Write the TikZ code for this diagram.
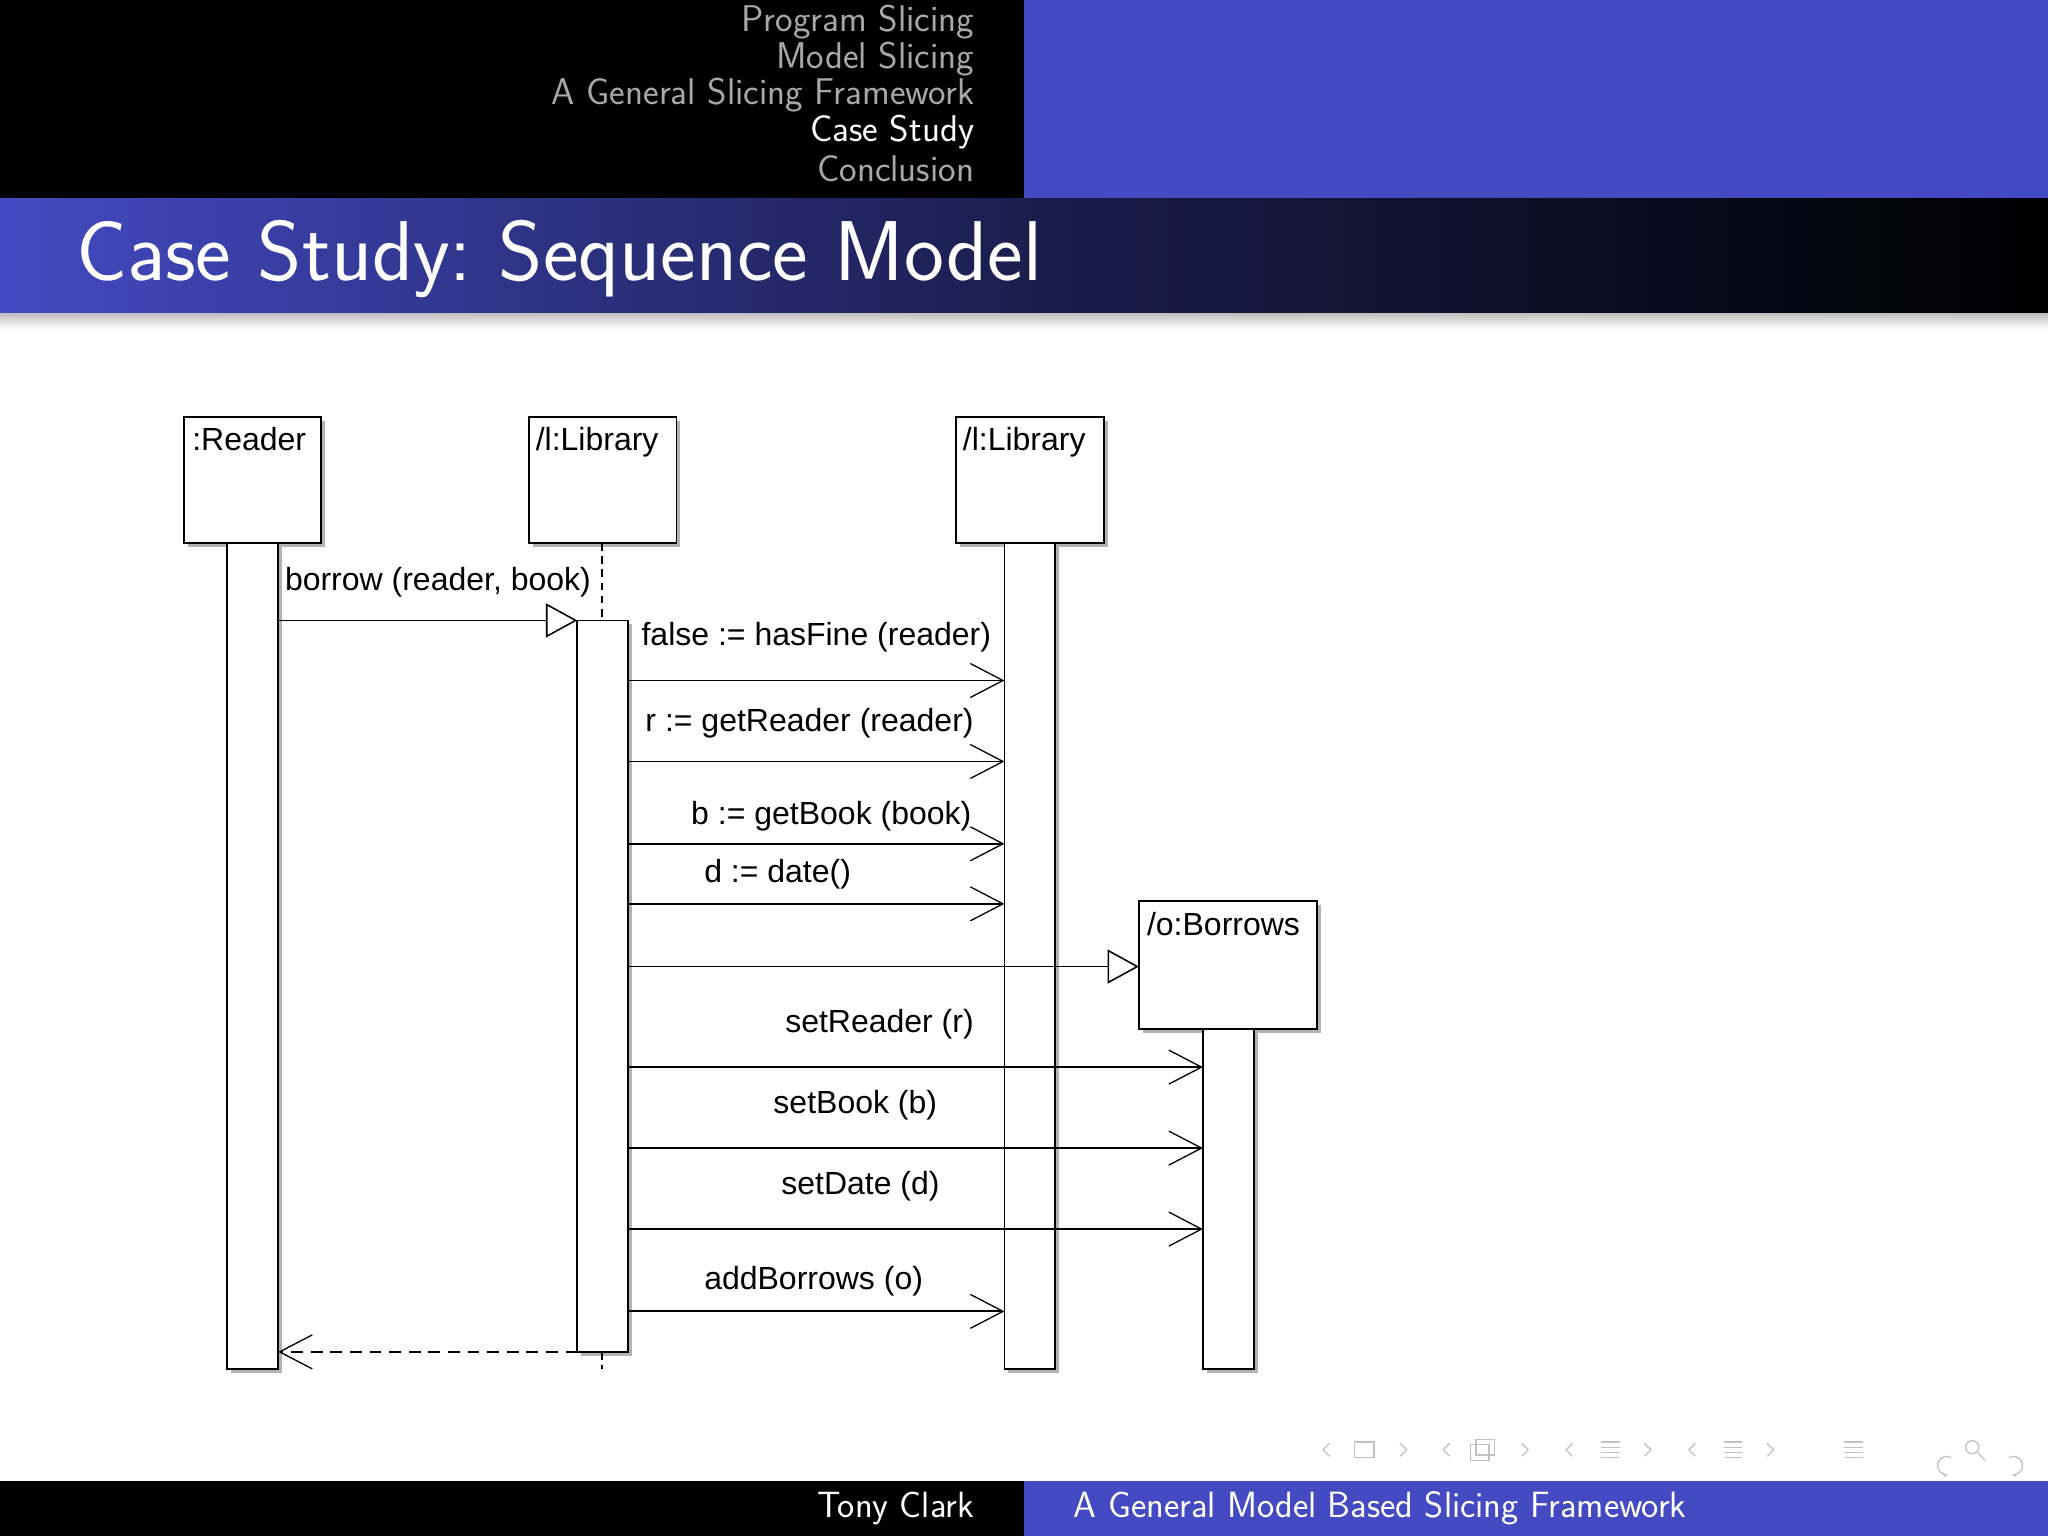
\documentclass[tikz,border=0pt]{standalone}
\usepackage{fontspec}
\newfontfamily\diag{Liberation Sans}
\usetikzlibrary{arrows.meta}
\definecolor{bblue}{HTML}{434AC2}
\definecolor{hgray}{HTML}{A8A8A8}
\begin{document}
\begin{tikzpicture}[x=1pt,y=-1pt,
  obj/.style={draw,line width=1.4pt,fill=white},
  shadow/.style={fill=gray!60},
  lbl/.style={font=\diag\fontsize{24.5}{24.5}\selectfont,inner sep=0pt},
  hd/.style={font=\sffamily\fontsize{28.5}{28.5}\selectfont,text=hgray,anchor=east,inner sep=0pt},
  msg/.style={line width=1.4pt,-{Straight Barb[length=25pt,width=26pt,line width=1pt]}},
  crt/.style={line width=1.4pt,-{Triangle[open,length=24pt,width=26pt,line width=1.2pt]}},
  nav/.style={hgray!70,line width=1pt}]
\useasboundingbox (0,0) rectangle (1568,1176);
% header
\fill[black] (0,0) rectangle (784,152);
\fill[bblue] (784,0) rectangle (1568,152);
\node[hd] (h1) at (746,17) {Program Slicing};
\node[hd] (h2) at (746,45) {Model Slicing};
\node[hd] (h3) at (746,73) {A General Slicing Framework};
\node[hd,text=white] (h4) at (746,101) {Case Study};
\node[hd] (h5) at (746,129) {Conclusion};
\shade[left color=bblue,right color=black,middle color=bblue!40!black] (0,152) rectangle (1568,240);
\shade[top color=gray!50,bottom color=white] (0,240) rectangle (1568,252);
\node[font=\sffamily\fontsize{65}{65}\selectfont,text=white,anchor=west,inner sep=0pt] (title) at (58,198) {Case Study:\ Sequence Model};
% footer
\fill[black] (0,1134) rectangle (784,1176);
\fill[bblue] (784,1134) rectangle (1568,1176);
\node[font=\sffamily\fontsize{28}{28}\selectfont,text=white,anchor=east,inner sep=0pt] (f1) at (746,1155) {Tony Clark};
\node[font=\sffamily\fontsize{28}{28}\selectfont,text=white,anchor=west,inner sep=0pt] (f2) at (822,1155) {A General Model Based Slicing Framework};
% nav symbols
\begin{scope}[nav]
\draw (1018,1105)--(1013,1110)--(1018,1115);
\draw (1037,1104) rectangle (1052,1116);
\draw (1072,1105)--(1077,1110)--(1072,1115);
\draw (1110,1105)--(1105,1110)--(1110,1115);
\draw (1126,1106) rectangle (1140,1118); \draw (1130,1102) rectangle (1144,1114);
\draw (1165,1105)--(1170,1110)--(1165,1115);
\draw (1204,1105)--(1199,1110)--(1204,1115);
\foreach \y in {1104,1108,1112,1116} \draw (1226,\y)--(1240,\y);
\draw (1259,1105)--(1264,1110)--(1259,1115);
\draw (1298,1105)--(1293,1110)--(1298,1115);
\foreach \y in {1104,1108,1112,1116} \draw (1320,\y)--(1334,\y);
\draw (1353,1105)--(1358,1110)--(1353,1115);
\foreach \y in {1104,1108,1112,1116} \draw (1412,\y)--(1426,\y);
\draw[-{Stealth[length=4pt]}] (1494,1116) arc (-60:-280:7);
\draw (1510,1108) circle (5); \draw (1514,1112)--(1520,1118);
\draw[-{Stealth[length=4pt]}] (1538,1116) arc (240:460:7);
\end{scope}
% shadows
\foreach \a/\b/\c/\d in {141/319/246/416,405/319/518/416,732/319/845/416,872/690/1008/788,174/416/213/1048,442/475/481/1035,769/416/808/1048,921/788/960/1048}
  \fill[shadow] (\a+3,\b+3) rectangle (\c+3,\d+3);
% objects
\draw[obj] (141,319) rectangle (246,416);
\node[lbl,anchor=north west] (r) at (147,327) {:Reader};
\draw[obj] (405,319) rectangle (518,416);
\node[lbl,anchor=north west] (l1) at (410,327) {/l:Library};
\draw[obj] (732,319) rectangle (845,416);
\node[lbl,anchor=north west] (l2) at (737,327) {/l:Library};
\draw[obj] (872,690) rectangle (1008,788);
\node[lbl,anchor=north west] (o) at (878,698) {/o:Borrows};
\draw[line width=1.4pt,dash pattern=on 6pt off 4pt] (461,416)--(461,475) (461,1035)--(461,1048);
% activations
\draw[obj] (174,416) rectangle (213,1048);
\draw[obj] (442,475) rectangle (481,1035);
\draw[obj] (769,416) rectangle (808,1048);
\draw[obj] (921,788) rectangle (960,1048);
% messages
\coordinate (ra) at (213,475); \coordinate (la) at (442,475);
\draw[crt] (ra)--(la);
\node[lbl,anchor=west] (m1) at (218,446) {borrow (reader, book)};
\foreach \y/\t/\x/\d in {521/{false := hasFine (reader)}/491/33,583/{r := getReader (reader)}/494/29,646/{b := getBook (book)}/529/21,692/{d := date()}/539/23,1004/{addBorrows (o)}/539/23}{
  \draw[msg] (481,\y)--(769,\y);
  \node[lbl,anchor=west] at (\x,\y-\d) {\t};
}
\draw[crt] (481,740)--(872,740);
\foreach \y/\t/\x in {817/{setReader (r)}/601,879/{setBook (b)}/592,941/{setDate (d)}/598}{
  \draw[msg] (481,\y)--(921,\y);
  \node[lbl,anchor=west] at (\x,\y-33) {\t};
}
\draw[line width=1.4pt,dash pattern=on 9pt off 6pt,-{Straight Barb[length=25pt,width=26pt,line width=1pt]}] (442,1035)--(213,1035);
\end{tikzpicture}
\end{document}
